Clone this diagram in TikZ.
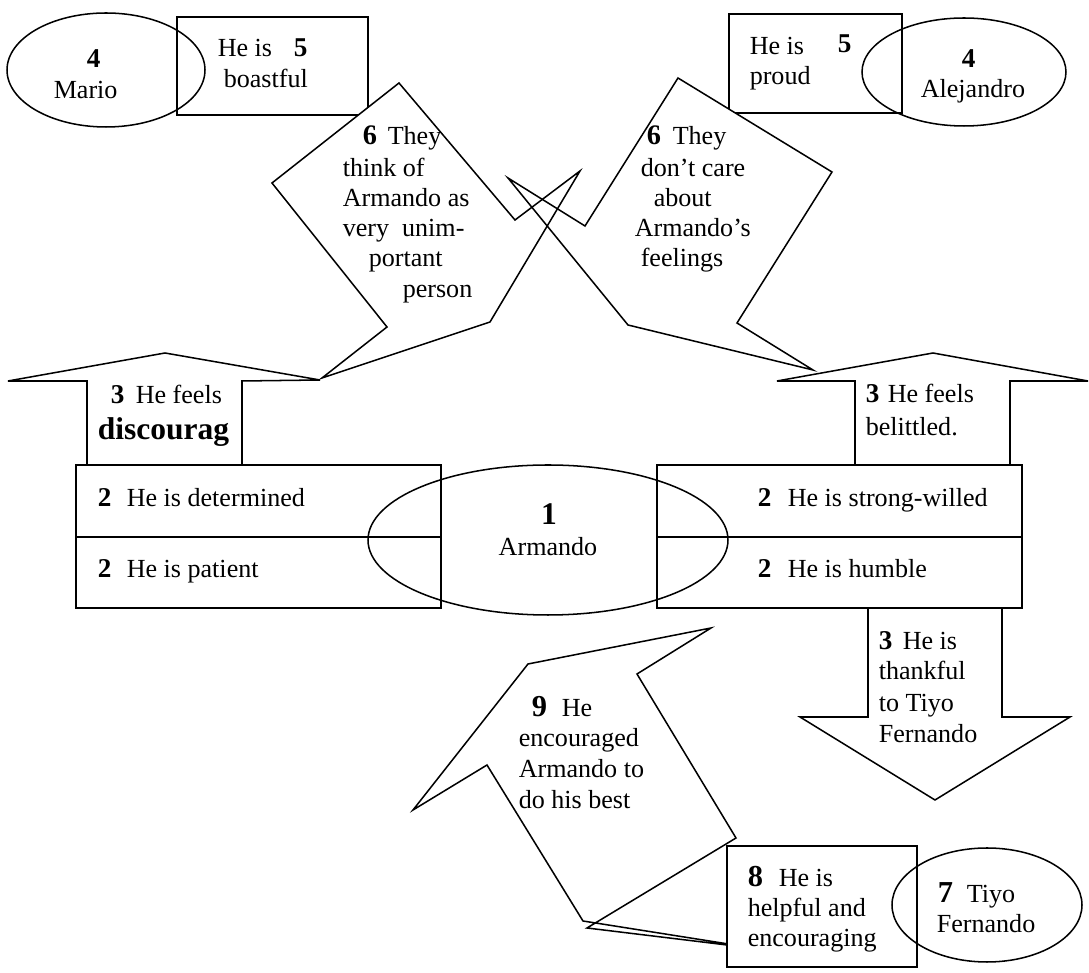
\documentclass[tikz,border=0pt]{standalone}
\usepackage{fontspec}
\setmainfont{Liberation Serif}
\usetikzlibrary{fit,shapes.geometric}
\begin{document}
\begin{tikzpicture}[x=0.46pt, y=-0.46pt, line width=0.7pt, line join=miter,
  txt/.style={anchor=base west, inner sep=0pt, font=\fontsize{12}{14}\selectfont},
  num/.style={anchor=base west, inner sep=0pt, font=\fontsize{12.5}{14}\selectfont\bfseries},
  numL/.style={anchor=base west, inner sep=0pt, font=\fontsize{14}{16}\selectfont\bfseries},
  box/.style={draw, rectangle, inner sep=0pt},
  ell/.style={draw, ellipse, inner sep=0pt},
  callout/.style={draw, fill=white}]
\useasboundingbox (0,0) rectangle (1089,973);

% boxes
\node[box, fit={(177,17) (368,115)}] (mariobox) {};
\node[box, fit={(729,14) (902,113)}] (alebox) {};
\node[box, fit={(76,465) (441,537)}] (lbtop) {};
\node[box, fit={(76,537) (441,608)}] (lbbot) {};
\node[box, fit={(657,465) (1022,537)}] (rbtop) {};
\node[box, fit={(657,537) (1022,608)}] (rbbot) {};

% block arrows
\draw (87,465) -- (87,381) -- (8,381) -- (165,353) -- (320,380) -- (242,381) -- (242,465);
\draw (855,465) -- (855,381) -- (777,381) -- (933,353) -- (1088,381) -- (1010,381) -- (1010,465);
\draw (868,608) -- (868,717) -- (800,717) -- (935,800) -- (1070,717) -- (1002,717) -- (1002,608);

% ellipses
\node[ell, minimum width=91.08pt, minimum height=52.44pt] (marioell) at (106,70) {};
\node[ell, minimum width=93.84pt, minimum height=49.68pt] (aleell) at (964,72) {};
\node[ell, minimum width=165.6pt, minimum height=69pt] (armell) at (548,540) {};

% callouts 6 (fill first, then outlines)
\fill[white] (272,183) -- (399,83) -- (515,220) -- (580,171) -- (490,322) -- (322,378) -- (387,327) -- cycle;
\fill[white] (508,178) -- (585,226) -- (678,78) -- (832,172) -- (737,323) -- (813,370) -- (628,325) -- cycle;
\draw (272,183) -- (399,83) -- (515,220) -- (580,171) -- (490,322) -- (322,378) -- (387,327) -- cycle;
\draw (508,178) -- (585,226) -- (678,78) -- (832,172) -- (737,323) -- (813,370) -- (628,325) -- cycle;

% callout 9
\draw[fill=white] (528,664) -- (711,628) -- (637,674) -- (736,838) -- (587,928) -- (760,949) -- (583,921) -- (487,765) -- (413,810) -- cycle;

% box 8 and Tiyo ellipse
\node[box, fill=white, fit={(727,846) (917,967)}] (box8) {};
\node[ell, minimum width=87.4pt, minimum height=52.44pt] (tiyoell) at (987,905) {};

% texts: Mario
\node[num] (m4) at (86,68) {4};
\node[txt] (mname) at (53,99) {Mario};
\node[txt] (mt1) at (217,57) {He is};
\node[num] (m5) at (293,57) {5};
\node[txt] (mt2) at (223,88) {boastful};
% Alejandro
\node[txt] (at1) at (749,55) {He is};
\node[num] (a5) at (837,53) {5};
\node[txt] (at2) at (749,85) {proud};
\node[num] (a4) at (961,68) {4};
\node[txt] (aname) at (920,98) {Alejandro};
% left callout
\node[num, font=\fontsize{13}{14}\selectfont\bfseries] (l6) at (362,145) {6};
\node[txt] (l1) at (387,145) {They};
\node[txt] (l2) at (342,177) {think of};
\node[txt] (l3) at (342,207) {Armando as};
\node[txt] (l4) at (342,237) {very\ \ unim-};
\node[txt] (l5) at (368,267) {portant};
\node[txt] (l6b) at (402,298) {person};
% right callout
\node[num, font=\fontsize{13}{14}\selectfont\bfseries] (r6) at (646,145) {6};
\node[txt] (r1) at (672,145) {They};
\node[txt] (r2) at (640,177) {don’t care};
\node[txt] (r3) at (653,207) {about};
\node[txt] (r4) at (634,237) {Armando’s};
\node[txt] (r5) at (640,267) {feelings};
% left arrow
\node[num] (la3) at (110,404) {3};
\node[txt] (la1) at (135,404) {He feels};
\node[txt, font=\fontsize{14.5}{16}\selectfont\bfseries] (la2) at (97,440) {discourag};
% left box
\node[num] (lb2a) at (97,507) {2};
\node[txt] (lbt1) at (126,507) {He is determined};
\node[num] (lb2b) at (97,578) {2};
\node[txt] (lbt2) at (126,578) {He is patient};
% right arrow
\node[num] (ra3) at (865,403) {3};
\node[txt] (ra1) at (887,403) {He feels};
\node[txt] (ra2) at (865,436) {belittled.};
% right box
\node[num] (rb2a) at (757,507) {2};
\node[txt] (rbt1) at (787,507) {He is strong-willed};
\node[num] (rb2b) at (757,578) {2};
\node[txt] (rbt2) at (787,578) {He is humble};
% Armando
\node[numL, anchor=base, font=\fontsize{14.5}{16}\selectfont\bfseries] (arm1) at (549,525) {1};
\node[txt, anchor=base] (armname) at (548,556) {Armando};
% down arrow
\node[num] (da3) at (878,650) {3};
\node[txt] (da1) at (902,650) {He is};
\node[txt] (da2) at (878,680) {thankful};
\node[txt] (da3b) at (878,712) {to Tiyo};
\node[txt] (da4) at (878,743) {Fernando};
% callout 9
\node[numL] (n9) at (531,717) {9};
\node[txt] (n9a) at (561,717) {He};
\node[txt] (n9b) at (518,747) {encouraged};
\node[txt] (n9c) at (518,778) {Armando to};
\node[txt] (n9d) at (518,809) {do his best};
% box 8
\node[numL] (b8) at (747,887) {8};
\node[txt] (b8a) at (778,887) {He is};
\node[txt] (b8b) at (747,917) {helpful and};
\node[txt] (b8c) at (747,947) {encouraging};
% Tiyo
\node[numL] (t7) at (937,903) {7};
\node[txt] (t7a) at (966,903) {Tiyo};
\node[txt] (t7b) at (936,933) {Fernando};
\end{tikzpicture}
\end{document}
